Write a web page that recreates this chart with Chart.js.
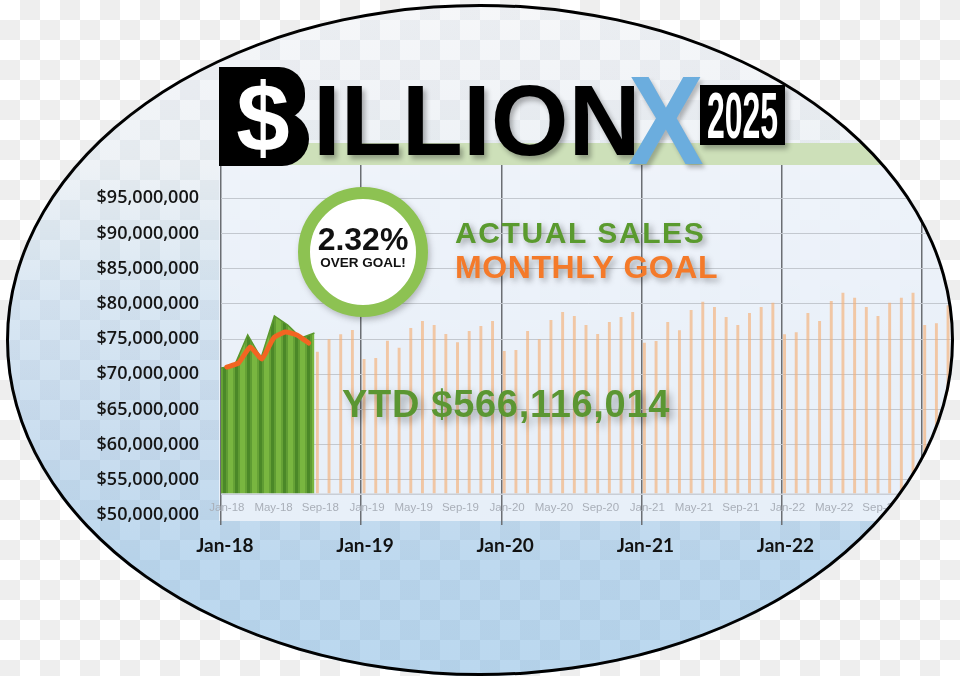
<!DOCTYPE html>
<html>
<head>
<meta charset="utf-8">
<script src="https://cdn.jsdelivr.net/npm/chart.js@4.4.1/dist/chart.umd.min.js"></script>
<style>
  html, body { margin: 0; padding: 0; overflow: hidden; background: #fff; }
  #page {
    position: relative; width: 960px; height: 676px; overflow: hidden;
    background-color: #fff;
    background-image: conic-gradient(#eee 25%, transparent 0 50%, #eee 0 75%, transparent 0);
    background-size: 40px 40px;
    font-family: "Liberation Sans", Arial, sans-serif;
  }
  #oval {
    position: absolute; left: 6px; top: 4px; width: 948px; height: 672px;
    border-radius: 50%; overflow: hidden;
    background-image:
      conic-gradient(rgba(0,40,80,.045) 25%, transparent 0 50%, rgba(0,40,80,.045) 0 75%, transparent 0),
      linear-gradient(to bottom, #f6f7f9 0px, #eef2f6 160px, #d9e7f3 300px, #c9ddef 450px, #bed9ef 560px, #bbd8ef 672px);
    background-size: 40px 40px, 100% 100%;
    background-position: -6px -4px, 0 0;
  }
  #inner { position: absolute; left: -6px; top: -4px; width: 960px; height: 676px; }
  #ring {
    position: absolute; left: 6px; top: 4px; width: 948px; height: 672px;
    border-radius: 50%; border: 3px solid #000; box-sizing: border-box; pointer-events: none;
  }
  canvas { position: absolute; left: 0; top: 0; }
  .abs { position: absolute; white-space: nowrap; }
  .band { left: 290px; top: 143px; width: 690px; height: 22px; background: #cde0b9; }
  .dollarTop { left: 219px; top: 67px; width: 86px; height: 52px; background: #000; border-radius: 0 26px 22px 0; }
  .dollarBot { left: 219px; top: 112px; width: 90px; height: 54px; background: #000; border-radius: 0 28px 28px 0; }
  .dollar { left: 219px; top: 70px; width: 88px; text-align: center; color: #fff; font-weight: bold; font-size: 96px; line-height: 96px; }
  .illion { left: 313px; top: 70px; color: #000; font-weight: bold; font-size: 100px; line-height: 100px;
    text-shadow: 3px 4px 5px rgba(0,0,0,.3); }
  .yearBox { left: 700px; top: 85px; width: 85px; height: 60px; background: #000; box-shadow: 3px 4px 5px rgba(0,0,0,.3); }
  .year { left: 662px; top: 84px; width: 161px; text-align: center; color: #fff; font-weight: bold;
    font-size: 64px; line-height: 64px; transform: scaleX(0.5); transform-origin: center; }
  .bigx { left: 628px; top: 58px; color: #6badde; font-weight: bold; font-size: 126px; line-height: 126px;
    transform: scaleX(0.9); transform-origin: left; text-shadow: 3px 4px 5px rgba(0,0,0,.25); }
  .badge { left: 298px; top: 187px; width: 130px; height: 130px; box-sizing: border-box; border: 12px solid #8dc252;
    border-radius: 50%; background: #fff; box-shadow: 2px 3px 6px rgba(0,0,0,.25); }
  .pct { left: 298px; top: 223px; width: 130px; text-align: center; color: #111; font-weight: bold; font-size: 32px; line-height: 32px; }
  .over { left: 298px; top: 256px; width: 130px; text-align: center; color: #111; font-weight: bold; font-size: 13.5px; line-height: 14px; }
  .actual { left: 455px; top: 218px; color: #5a9a2e; font-weight: bold; font-size: 30px; line-height: 30px; letter-spacing: 1.6px;
    text-shadow: 3px 3px 6px rgba(0,0,0,.35); }
  .goal { left: 455px; top: 251px; color: #f47a2a; font-weight: bold; font-size: 32px; line-height: 32px; letter-spacing: 0.6px;
    text-shadow: 3px 3px 6px rgba(0,0,0,.35); }
  .ytd { left: 342px; top: 385px; color: #5b9632; font-weight: bold; font-size: 38px; line-height: 38px; letter-spacing: 0.7px;
    text-shadow: 4px 4px 8px rgba(0,0,0,.35); }
</style>
</head>
<body>
<div id="page">
  <div id="oval">
    <div id="inner">
      <canvas id="salesChart" width="960" height="676"></canvas>
      <div class="abs band"></div>
      <div class="abs dollarTop"></div>
      <div class="abs dollarBot"></div>
      <div class="abs dollar">$</div>
      <div class="abs illion">ILLION</div>
      <div class="abs yearBox"></div>
      <div class="abs year">2025</div>
      <div class="abs bigx">X</div>
      <div class="abs badge"></div>
      <div class="abs pct">2.32%</div>
      <div class="abs over">OVER GOAL!</div>
      <div class="abs actual">ACTUAL SALES</div>
      <div class="abs goal">MONTHLY GOAL</div>
      <div class="abs ytd">YTD $566,116,014</div>
    </div>
  </div>
  <div id="ring"></div>
</div>
<script>
const MONTH_NAMES = ['Jan', 'Feb', 'Mar', 'Apr', 'May', 'Jun', 'Jul', 'Aug', 'Sep', 'Oct', 'Nov', 'Dec'];
const YEARS = ['18', '19', '20', '21', '22', '23'];

// actual sales, Jan-18 .. Aug-18
const ACTUAL = [70880000, 71170000, 75570000, 72300000, 78270000, 76990000, 75140000, 75850000];

// monthly goal, Jan-18 .. Mar-23 (first months drawn as the line, rest as bars)
const GOAL = [
  71020000, 71590000, 73860000, 72160000, 75140000, 76000000, 75570000, 74430000,
  73200000, 74960000, 75670000, 76280000,
  72160000, 72300000, 74760000, 73760000, 76560000, 77560000, 76990000, 75710000, 74530000, 76140000, 76850000, 77560000,
  73300000, 73440000, 76140000, 74960000, 77700000, 78840000, 78270000, 76990000, 75710000, 77410000, 78130000, 78840000,
  74480000, 74720000, 77410000, 76240000, 79120000, 80300000, 79550000, 78130000, 76990000, 78690000, 79550000, 80160000,
  75670000, 75950000, 78690000, 77560000, 80400000, 81580000, 80870000, 79550000, 78270000, 80160000, 80870000, 81580000,
  76990000, 77230000, 79800000
];

const MONTHS = YEARS.flatMap(y => MONTH_NAMES.map(m => m + '-' + y)).slice(0, GOAL.length);

const Y_MIN = 50000000;
const Y_MAX = 100000000;
const Y_STEP = 5000000;
const BAR_BASE = 53100000;

const INNER_LABELS = ['Jan', 'May', 'Sep'];

function stripePattern() {
  const c = document.createElement('canvas');
  c.width = 12; c.height = 4;
  const g = c.getContext('2d');
  g.fillStyle = '#79b640'; g.fillRect(0, 0, 12, 4);
  g.fillStyle = '#66a236'; g.fillRect(5, 0, 2, 4);
  g.fillStyle = '#4b8828'; g.fillRect(7, 0, 3, 4);
  g.fillStyle = '#5f9c33'; g.fillRect(10, 0, 2, 4);
  return g.createPattern(c, 'repeat');
}

const innerPanel = {
  id: 'innerPanel',
  beforeDraw(chart) {
    const { ctx, chartArea } = chart;
    ctx.save();
    ctx.fillStyle = 'rgba(238,243,250,0.85)';
    ctx.fillRect(chartArea.left - 2, chartArea.top, chartArea.right - chartArea.left + 10, chartArea.bottom + 6 - chartArea.top);
    ctx.restore();
  },
  beforeDatasetsDraw(chart) {
    const { ctx, chartArea, scales } = chart;
    const y = scales.y.getPixelForValue(BAR_BASE) + 1;
    ctx.save();
    ctx.strokeStyle = '#c9ced6';
    ctx.lineWidth = 1.5;
    ctx.beginPath();
    ctx.moveTo(chartArea.left, y);
    ctx.lineTo(chartArea.right, y);
    ctx.stroke();
    ctx.restore();
  },
  afterDraw(chart) {
    const { ctx, chartArea, scales } = chart;
    ctx.save();
    ctx.font = '11.5px "Liberation Sans", Arial, sans-serif';
    ctx.fillStyle = '#a9afb8';
    ctx.textAlign = 'center';
    ctx.textBaseline = 'middle';
    MONTHS.forEach((m, i) => {
      if (INNER_LABELS.includes(m.slice(0, 3))) {
        ctx.fillText(m, scales.x.getPixelForValue(i), chartArea.bottom - 7);
      }
    });
    ctx.restore();
  }
};

function makeSalesChart(idCanvas) {
  const ctx = document.getElementById(idCanvas).getContext('2d');
  const nAct = ACTUAL.length;

  return new Chart(ctx, {
    type: 'bar',
    data: {
      labels: MONTHS,
      datasets: [
        {
          type: 'line',
          label: 'Monthly Goal',
          data: GOAL.map((v, i) => (i < nAct ? v : null)),
          borderColor: '#f26522',
          borderWidth: 5,
          borderCapStyle: 'round',
          borderJoinStyle: 'round',
          pointRadius: 0,
          tension: 0.15,
          order: 0
        },
        {
          type: 'line',
          label: 'Actual Sales',
          xAxisID: 'xa',
          data: ACTUAL.map((v, i) => ({ x: i, y: v })),
          borderColor: '#5a972e',
          borderWidth: 1.5,
          backgroundColor: stripePattern(),
          fill: { value: BAR_BASE },
          pointRadius: 0,
          tension: 0,
          order: 1
        },
        {
          label: 'Goal',
          data: GOAL.map((v, i) => (i < nAct ? null : v)),
          base: BAR_BASE,
          backgroundColor: 'rgba(245,176,120,0.66)',
          barPercentage: 0.5,
          categoryPercentage: 1,
          order: 2
        }
      ]
    },
    options: {
      responsive: false,
      animation: false,
      layout: { padding: { top: 163, right: 2, bottom: 0, left: 0 } },
      plugins: {
        legend: { display: false },
        tooltip: { enabled: false }
      },
      scales: {
        x: {
          offset: true,
          border: { display: false },
          grid: {
            offset: true,
            lineWidth: 1.5,
            tickLength: 10,
            color: c => (MONTHS[c.index] && MONTHS[c.index].startsWith('Jan') ? '#6b6e73' : 'transparent')
          },
          ticks: {
            autoSkip: false,
            maxRotation: 0,
            minRotation: 0,
            padding: 9,
            labelOffset: -2,
            color: '#111',
            font: { family: 'Lato, "Liberation Sans", Arial', weight: 'bold', size: 19 },
            callback: (v, i) => (MONTHS[i].startsWith('Jan') ? MONTHS[i] : '')
          },
          afterFit: s => { s.height = 161; }
        },
        xa: {
          type: 'linear',
          position: 'bottom',
          display: false,
          offset: false,
          grid: { offset: false },
          min: 0,
          max: (nAct - 1) * MONTHS.length / nAct
        },
        y: {
          min: Y_MIN,
          max: Y_MAX,
          border: { display: false },
          grid: {
            drawTicks: false,
            lineWidth: 1,
            color: c => (c.tick.value === Y_MIN ? 'transparent' : '#c3c8cf')
          },
          ticks: {
            stepSize: Y_STEP,
            padding: 22,
            color: '#151515',
            font: { family: '"Open Sans", "Liberation Sans", Arial', weight: '600', size: 18 },
            callback: v => (v >= Y_MAX ? '' : '$' + Number(v).toLocaleString('en-US'))
          },
          afterFit: s => { s.width = 221; }
        }
      }
    },
    plugins: [innerPanel]
  });
}

makeSalesChart('salesChart');
</script>
</body>
</html>
